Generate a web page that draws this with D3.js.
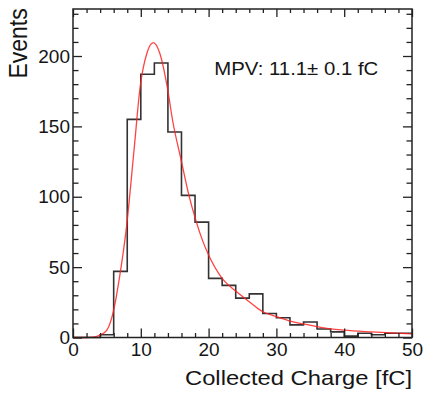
<!DOCTYPE html>
<html>
<head>
<meta charset="utf-8">
<script src="https://cdn.jsdelivr.net/npm/d3@7"></script>
<style>
  body { margin: 0; background: #fff; }
  text { font-family: "Liberation Sans", Arial, sans-serif; fill: #151515; }
</style>
</head>
<body>
<div id="chart"></div>
<script>
// histogram of collected charge, 2 fC bins
var binLow = [0, 2, 4, 6, 8, 10, 12, 14, 16, 18, 20, 22, 24, 26, 28, 30, 32, 34, 36, 38, 40, 42, 44, 46, 48];
var counts = [0, 0, 2, 47, 155, 187, 195, 146, 101, 82, 42, 37, 28, 31, 17, 14, 9, 11, 6, 4, 1, 3, 2, 3, 3];
var binWidth = 2;

// fitted curve
var fitX = [0, 2, 3, 4, 5, 6, 6.8, 7.9, 9, 9.9, 10.9, 11.85, 12.8, 13.9, 14.7, 16, 17.1, 18.2, 19.1, 20, 22, 24, 26, 28, 30, 32, 34, 36, 38, 40, 44, 50];
var fitY = [0, 0, 0.3, 1.8, 5.3, 19.5, 41, 79, 133, 178, 202, 209.5, 202, 178, 154, 125, 101, 82, 69, 58.6, 42, 33, 25.4, 18.3, 14.8, 11.7, 9.6, 7.7, 6.1, 5.2, 4, 2.6];

// axis ticks
var xMajor = [0, 10, 20, 30, 40, 50];
var xMinor = [2, 4, 6, 8, 12, 14, 16, 18, 22, 24, 26, 28, 32, 34, 36, 38, 42, 44, 46, 48];
var yMajor = [0, 50, 100, 150, 200];
var yMinor = [10, 20, 30, 40, 60, 70, 80, 90, 110, 120, 130, 140, 160, 170, 180, 190, 210, 220, 230];

var W = 428, H = 393;
// frame edges (window.top is reserved, so use other names)
var padL = 73, padR = 412, padT = 9, padB = 337.5;

var svg = d3.select("#chart").append("svg")
	.attr("width", W)
	.attr("height", H);

var x = d3.scaleLinear().domain([0, 50]).range([padL, padR]);
var y = d3.scaleLinear().domain([0, 233.4]).range([padB, padT]);

// histogram as a step outline
var steps = [];
binLow.forEach(function (lo, i) {
	steps.push([lo, counts[i]]);
	steps.push([lo + binWidth, counts[i]]);
});
var stepLine = d3.line()
	.x(function (d) { return x(d[0]); })
	.y(function (d) { return y(d[1]); });

svg.append("path")
	.datum(steps)
	.attr("d", stepLine)
	.attr("fill", "none")
	.attr("stroke", "#333")
	.attr("stroke-width", 1.6);

// fit curve
var fitPts = fitX.map(function (v, i) { return [v, fitY[i]]; });
svg.append("path")
	.datum(fitPts)
	.attr("d", d3.line()
		.x(function (d) { return x(d[0]); })
		.y(function (d) { return y(d[1]); })
		.curve(d3.curveMonotoneX))
	.attr("fill", "none")
	.attr("stroke", "#f22")
	.attr("stroke-opacity", 0.85)
	.attr("stroke-width", 1.3);

// axes: ticks on all four sides, pointing inward
function addAxis(axis, transform) {
	var g = svg.append("g").attr("transform", transform).call(axis);
	g.select(".domain").remove();
	g.selectAll(".tick line").attr("stroke", "#222").attr("stroke-width", 1.3);
	return g;
}

var gx = addAxis(d3.axisBottom(x).tickValues(xMajor).tickSize(-9).tickPadding(5), "translate(0," + padB + ")");
addAxis(d3.axisBottom(x).tickValues(xMinor).tickSize(-4.5).tickFormat(""), "translate(0," + padB + ")");
addAxis(d3.axisTop(x).tickValues(xMajor).tickSize(-8).tickFormat(""), "translate(0," + padT + ")");
addAxis(d3.axisTop(x).tickValues(xMinor).tickSize(-4).tickFormat(""), "translate(0," + padT + ")");

var gy = addAxis(d3.axisLeft(y).tickValues(yMajor).tickSize(-9).tickPadding(3), "translate(" + padL + ",0)");
addAxis(d3.axisLeft(y).tickValues(yMinor).tickSize(-5.5).tickFormat(""), "translate(" + padL + ",0)");
addAxis(d3.axisRight(y).tickValues(yMajor).tickSize(-9).tickFormat(""), "translate(" + padR + ",0)");
addAxis(d3.axisRight(y).tickValues(yMinor).tickSize(-5.5).tickFormat(""), "translate(" + padR + ",0)");

gx.selectAll("text").attr("font-size", 19).attr("font-family", null).attr("fill", "#151515");
gy.selectAll("text").attr("font-size", 19).attr("font-family", null).attr("fill", "#151515");

// frame
svg.append("rect")
	.attr("x", padL)
	.attr("y", padT)
	.attr("width", padR - padL)
	.attr("height", padB - padT)
	.attr("fill", "none")
	.attr("stroke", "#222")
	.attr("stroke-width", 1.5);

// titles
svg.append("text")
	.attr("transform", "translate(412,385)")
	.attr("text-anchor", "end")
	.attr("font-size", 21)
	.attr("textLength", 227)
	.attr("lengthAdjust", "spacingAndGlyphs")
	.text("Collected Charge [fC]");

svg.append("text")
	.attr("transform", "translate(27,8.3) scale(1.12,1) rotate(-90)")
	.attr("text-anchor", "end")
	.attr("font-size", 23)
	.text("Events");

svg.append("text")
	.attr("x", 214.3)
	.attr("y", 74.7)
	.attr("font-size", 17.7)
	.attr("textLength", 164)
	.attr("lengthAdjust", "spacingAndGlyphs")
	.text("MPV: 11.1\u00b1 0.1 fC");
</script>
</body>
</html>
